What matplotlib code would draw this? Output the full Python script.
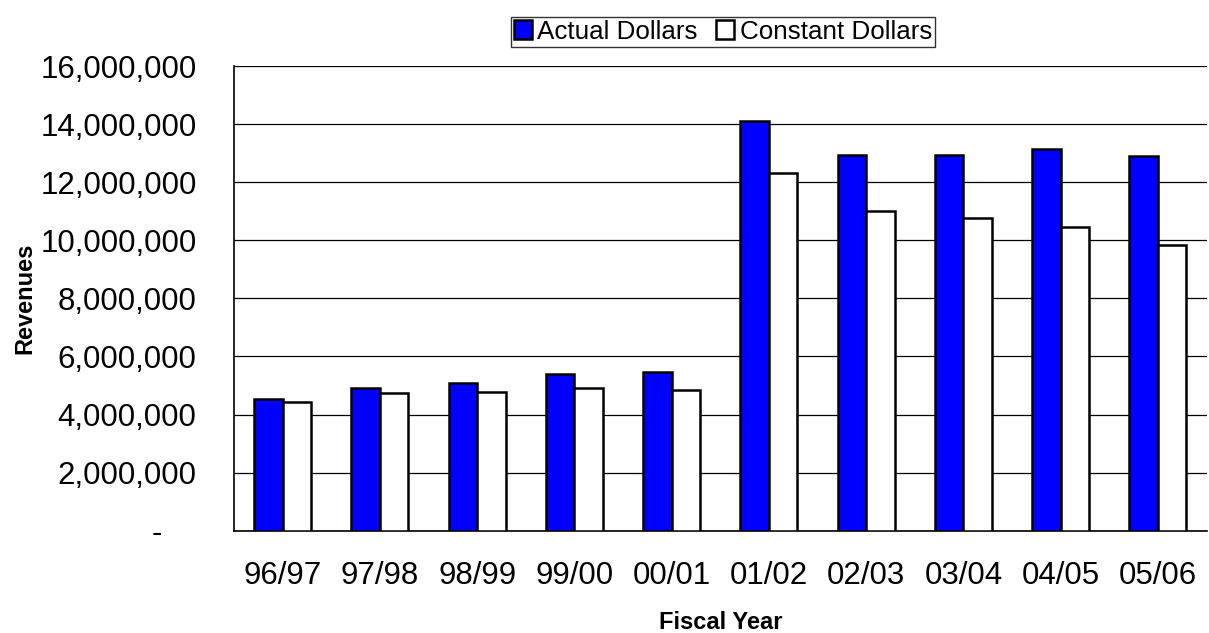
import matplotlib
matplotlib.use("Agg")
import matplotlib.pyplot as plt
import numpy as np
from matplotlib.ticker import FuncFormatter

plt.rcParams['font.family'] = ['Liberation Sans', 'DejaVu Sans']

years = ['96/97', '97/98', '98/99', '99/00', '00/01', '01/02', '02/03', '03/04', '04/05', '05/06']
actual = [4540000, 4920000, 5080000, 5380000, 5480000, 14090000, 12920000, 12950000, 13130000, 12890000]
constant = [4430000, 4750000, 4790000, 4900000, 4860000, 12300000, 11000000, 10770000, 10460000, 9850000]

def fmt(v, pos):
    # accounting style: zero shows as a dash, indented
    if v == 0:
        return '-    '
    return '{:,.0f}'.format(v)

fig = plt.figure(figsize=(12.09, 6.33), dpi=100)
ax = fig.add_axes([0.1936, 0.1616, 0.8044, 0.7341])

x = np.arange(len(years))
w = 0.293
b1 = ax.bar(x - w/2, actual, w, color='#0000FF', edgecolor='black', linewidth=1.8, label='Actual Dollars', zorder=3)
b2 = ax.bar(x + w/2, constant, w, color='white', edgecolor='black', linewidth=1.8, label='Constant Dollars', zorder=3)

ax.set_xlim(-0.5, len(years) - 0.5)
ax.set_ylim(0, 16000000)
ax.set_yticks(np.arange(0, 16000001, 2000000))
ax.yaxis.set_major_formatter(FuncFormatter(fmt))
ax.set_xticks(x)
ax.set_xticklabels(years)
ax.tick_params(axis='both', length=0, labelsize=22.5)
ax.tick_params(axis='y', pad=27)
ax.tick_params(axis='x', pad=22)
ax.grid(axis='y', color='black', linewidth=0.9, zorder=0)

for s in ['top', 'right']:
    ax.spines[s].set_visible(False)
for s in ['left', 'bottom']:
    ax.spines[s].set_linewidth(1.2)

ax.set_xlabel('Fiscal Year', fontsize=17, fontweight='bold', labelpad=14)
ax.set_ylabel('Revenues', fontsize=17, fontweight='bold')
ax.yaxis.set_label_coords(-0.203, 0.5)

fig.legend(handles=[b1, b2], loc='center', bbox_to_anchor=(0.598, 0.950), ncol=2,
           fontsize=18.7, frameon=True, fancybox=False, edgecolor='black',
           handlelength=0.7, handleheight=0.7, handletextpad=0.2, columnspacing=0.7,
           borderpad=0.12, borderaxespad=0)

fig.savefig('out.png', dpi=100)
